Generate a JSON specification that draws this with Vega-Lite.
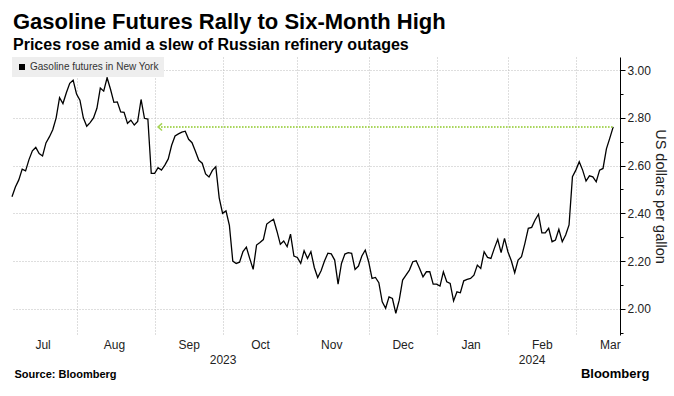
{
  "$schema": "https://vega.github.io/schema/vega-lite/v6.json",
  "width": 608,
  "height": 278,
  "autosize": {"type": "none"},
  "padding": {"left": 12, "top": 57, "right": 54, "bottom": 61},
  "background": "#ffffff",
  "config": {"view": {"stroke": null}, "font": "Liberation Sans"},
  "title": {
    "text": "Gasoline Futures Rally to Six-Month High",
    "subtitle": "Prices rose amid a slew of Russian refinery outages",
    "anchor": "start", "frame": "group",
    "font": "Liberation Sans", "fontSize": 22, "fontWeight": "bold", "color": "#000000",
    "subtitleFont": "Liberation Sans", "subtitleFontSize": 16, "subtitleFontWeight": "bold", "subtitleColor": "#000000",
    "subtitlePadding": 3, "offset": 3.5, "dx": 1
  },
  "datasets": {
    "prices": [
      {"date": "2023-07-05", "price": 2.469}, {"date": "2023-07-06", "price": 2.51}, {"date": "2023-07-07", "price": 2.54},
      {"date": "2023-07-10", "price": 2.585}, {"date": "2023-07-11", "price": 2.578}, {"date": "2023-07-12", "price": 2.625},
      {"date": "2023-07-13", "price": 2.662}, {"date": "2023-07-14", "price": 2.676}, {"date": "2023-07-17", "price": 2.65},
      {"date": "2023-07-18", "price": 2.64}, {"date": "2023-07-19", "price": 2.695}, {"date": "2023-07-20", "price": 2.72},
      {"date": "2023-07-21", "price": 2.75}, {"date": "2023-07-24", "price": 2.8}, {"date": "2023-07-25", "price": 2.885},
      {"date": "2023-07-26", "price": 2.86}, {"date": "2023-07-27", "price": 2.905}, {"date": "2023-07-28", "price": 2.945},
      {"date": "2023-07-31", "price": 2.958},
      {"date": "2023-08-01", "price": 2.9}, {"date": "2023-08-02", "price": 2.874}, {"date": "2023-08-03", "price": 2.8},
      {"date": "2023-08-04", "price": 2.765}, {"date": "2023-08-07", "price": 2.78}, {"date": "2023-08-08", "price": 2.8},
      {"date": "2023-08-09", "price": 2.84}, {"date": "2023-08-10", "price": 2.925}, {"date": "2023-08-11", "price": 2.912},
      {"date": "2023-08-14", "price": 2.968}, {"date": "2023-08-15", "price": 2.92}, {"date": "2023-08-16", "price": 2.865},
      {"date": "2023-08-17", "price": 2.867}, {"date": "2023-08-18", "price": 2.825}, {"date": "2023-08-21", "price": 2.823},
      {"date": "2023-08-22", "price": 2.777}, {"date": "2023-08-23", "price": 2.79}, {"date": "2023-08-24", "price": 2.77},
      {"date": "2023-08-25", "price": 2.785}, {"date": "2023-08-28", "price": 2.877}, {"date": "2023-08-29", "price": 2.798},
      {"date": "2023-08-30", "price": 2.795}, {"date": "2023-08-31", "price": 2.567},
      {"date": "2023-09-01", "price": 2.567}, {"date": "2023-09-05", "price": 2.591}, {"date": "2023-09-06", "price": 2.581},
      {"date": "2023-09-07", "price": 2.602}, {"date": "2023-09-08", "price": 2.628}, {"date": "2023-09-11", "price": 2.685},
      {"date": "2023-09-12", "price": 2.724}, {"date": "2023-09-13", "price": 2.733}, {"date": "2023-09-14", "price": 2.74},
      {"date": "2023-09-15", "price": 2.744}, {"date": "2023-09-18", "price": 2.71}, {"date": "2023-09-19", "price": 2.696},
      {"date": "2023-09-20", "price": 2.66}, {"date": "2023-09-21", "price": 2.622}, {"date": "2023-09-22", "price": 2.61},
      {"date": "2023-09-25", "price": 2.565}, {"date": "2023-09-26", "price": 2.552}, {"date": "2023-09-27", "price": 2.58},
      {"date": "2023-09-28", "price": 2.595}, {"date": "2023-09-29", "price": 2.465},
      {"date": "2023-10-02", "price": 2.4}, {"date": "2023-10-03", "price": 2.41}, {"date": "2023-10-04", "price": 2.35},
      {"date": "2023-10-05", "price": 2.2}, {"date": "2023-10-06", "price": 2.19}, {"date": "2023-10-09", "price": 2.195},
      {"date": "2023-10-10", "price": 2.24}, {"date": "2023-10-11", "price": 2.258}, {"date": "2023-10-12", "price": 2.21},
      {"date": "2023-10-13", "price": 2.165}, {"date": "2023-10-16", "price": 2.267}, {"date": "2023-10-17", "price": 2.278},
      {"date": "2023-10-18", "price": 2.29}, {"date": "2023-10-19", "price": 2.355}, {"date": "2023-10-20", "price": 2.366},
      {"date": "2023-10-23", "price": 2.375}, {"date": "2023-10-24", "price": 2.325}, {"date": "2023-10-25", "price": 2.27},
      {"date": "2023-10-26", "price": 2.284}, {"date": "2023-10-27", "price": 2.26}, {"date": "2023-10-30", "price": 2.313},
      {"date": "2023-10-31", "price": 2.221},
      {"date": "2023-11-01", "price": 2.215}, {"date": "2023-11-02", "price": 2.19}, {"date": "2023-11-03", "price": 2.243},
      {"date": "2023-11-06", "price": 2.211}, {"date": "2023-11-07", "price": 2.239}, {"date": "2023-11-08", "price": 2.173},
      {"date": "2023-11-09", "price": 2.131}, {"date": "2023-11-10", "price": 2.159}, {"date": "2023-11-13", "price": 2.2},
      {"date": "2023-11-14", "price": 2.233}, {"date": "2023-11-15", "price": 2.23}, {"date": "2023-11-16", "price": 2.204},
      {"date": "2023-11-17", "price": 2.103}, {"date": "2023-11-20", "price": 2.19}, {"date": "2023-11-21", "price": 2.229},
      {"date": "2023-11-22", "price": 2.235}, {"date": "2023-11-24", "price": 2.232}, {"date": "2023-11-27", "price": 2.165},
      {"date": "2023-11-28", "price": 2.179}, {"date": "2023-11-29", "price": 2.221}, {"date": "2023-11-30", "price": 2.246},
      {"date": "2023-12-01", "price": 2.197}, {"date": "2023-12-04", "price": 2.127}, {"date": "2023-12-05", "price": 2.131},
      {"date": "2023-12-06", "price": 2.109}, {"date": "2023-12-07", "price": 2.029}, {"date": "2023-12-08", "price": 2.002},
      {"date": "2023-12-11", "price": 2.05}, {"date": "2023-12-12", "price": 2.043}, {"date": "2023-12-13", "price": 1.981},
      {"date": "2023-12-14", "price": 2.036}, {"date": "2023-12-15", "price": 2.12}, {"date": "2023-12-18", "price": 2.141},
      {"date": "2023-12-19", "price": 2.162}, {"date": "2023-12-20", "price": 2.197}, {"date": "2023-12-21", "price": 2.201},
      {"date": "2023-12-22", "price": 2.169}, {"date": "2023-12-26", "price": 2.134}, {"date": "2023-12-27", "price": 2.155},
      {"date": "2023-12-28", "price": 2.155}, {"date": "2023-12-29", "price": 2.103},
      {"date": "2024-01-02", "price": 2.103}, {"date": "2024-01-03", "price": 2.095}, {"date": "2024-01-04", "price": 2.155},
      {"date": "2024-01-05", "price": 2.113}, {"date": "2024-01-08", "price": 2.106}, {"date": "2024-01-09", "price": 2.033},
      {"date": "2024-01-10", "price": 2.071}, {"date": "2024-01-11", "price": 2.067}, {"date": "2024-01-12", "price": 2.117},
      {"date": "2024-01-16", "price": 2.123}, {"date": "2024-01-17", "price": 2.127}, {"date": "2024-01-18", "price": 2.141},
      {"date": "2024-01-19", "price": 2.183}, {"date": "2024-01-22", "price": 2.169}, {"date": "2024-01-23", "price": 2.239},
      {"date": "2024-01-24", "price": 2.215}, {"date": "2024-01-25", "price": 2.211}, {"date": "2024-01-26", "price": 2.253},
      {"date": "2024-01-29", "price": 2.291}, {"date": "2024-01-30", "price": 2.235}, {"date": "2024-01-31", "price": 2.295},
      {"date": "2024-02-01", "price": 2.239}, {"date": "2024-02-02", "price": 2.201}, {"date": "2024-02-05", "price": 2.151},
      {"date": "2024-02-06", "price": 2.204}, {"date": "2024-02-07", "price": 2.218}, {"date": "2024-02-08", "price": 2.274},
      {"date": "2024-02-09", "price": 2.337}, {"date": "2024-02-12", "price": 2.341}, {"date": "2024-02-13", "price": 2.372},
      {"date": "2024-02-14", "price": 2.396}, {"date": "2024-02-15", "price": 2.318}, {"date": "2024-02-16", "price": 2.318},
      {"date": "2024-02-20", "price": 2.337}, {"date": "2024-02-21", "price": 2.281}, {"date": "2024-02-22", "price": 2.288},
      {"date": "2024-02-23", "price": 2.333}, {"date": "2024-02-26", "price": 2.281}, {"date": "2024-02-27", "price": 2.309},
      {"date": "2024-02-28", "price": 2.351}, {"date": "2024-02-29", "price": 2.553},
      {"date": "2024-03-01", "price": 2.581}, {"date": "2024-03-04", "price": 2.616}, {"date": "2024-03-05", "price": 2.581},
      {"date": "2024-03-06", "price": 2.535}, {"date": "2024-03-07", "price": 2.557}, {"date": "2024-03-08", "price": 2.553},
      {"date": "2024-03-11", "price": 2.532}, {"date": "2024-03-12", "price": 2.581}, {"date": "2024-03-13", "price": 2.588},
      {"date": "2024-03-14", "price": 2.67}, {"date": "2024-03-15", "price": 2.715}, {"date": "2024-03-18", "price": 2.762}
    ],
    "arrow": [{"date": "2023-09-05", "end": "2024-03-18", "price": 2.762}]
  },
  "layer": [
    {
      "data": {"name": "prices"},
      "mark": {"type": "line", "strokeWidth": 1.3},
      "encoding": {
        "x": {
          "field": "date", "type": "ordinal",
          "scale": {"type": "point", "padding": 2.25, "align": 0},
          "axis": {
            "orient": "bottom",
            "values": ["2023-08-01", "2023-09-01", "2023-10-02", "2023-11-01", "2023-12-01", "2024-01-02", "2024-02-01", "2024-03-01"],
            "labels": false, "ticks": false, "tickSize": 0, "domain": false, "title": null,
            "grid": true, "gridColor": "#bdbdbd", "gridDash": [1, 2], "gridWidth": 1
          }
        },
        "y": {
          "field": "price", "type": "quantitative",
          "scale": {"domain": [1.89, 3.055], "zero": false, "nice": false},
          "axis": {
            "orient": "right",
            "values": [2.0, 2.2, 2.4, 2.6, 2.8, 3.0],
            "format": ".2f",
            "labelFont": "Liberation Sans", "labelFontSize": 12, "labelColor": "#222222", "labelPadding": 2, "labelOverlap": false,
            "domain": true, "domainColor": "#000000", "domainWidth": 1,
            "ticks": true, "tickColor": "#000000", "tickWidth": 1, "tickSize": 5,
            "grid": true, "gridColor": "#bdbdbd", "gridDash": [1, 2], "gridWidth": 1,
            "title": "US dollars per gallon", "titleFont": "Liberation Sans", "titleFontSize": 14.5, "titleFontWeight": "normal",
            "titleColor": "#222222", "titlePadding": 2
          }
        },
        "color": {
          "datum": "Gasoline futures in New York",
          "scale": {"range": ["#000000"]},
          "legend": {
            "orient": "none", "legendX": 0, "legendY": 0, "title": null,
            "fillColor": "#eeeeee", "padding": 5, "cornerRadius": 0,
            "symbolType": "square", "symbolSize": 36, "symbolFillColor": "#000000", "symbolStrokeWidth": 0,
            "labelFont": "Liberation Sans", "labelFontSize": 10, "labelColor": "#333333", "labelOffset": 3,
            "encode": {"symbols": {"update": {"fill": {"value": "#000000"}, "stroke": {"value": "#000000"}, "strokeWidth": {"value": 0}, "opacity": {"value": 1}}}}
          }
        }
      }
    },
    {
      "data": {"name": "arrow"},
      "mark": {"type": "rule", "color": "#a6d456", "strokeWidth": 2, "strokeDash": [1.5, 1.5]},
      "encoding": {
        "x": {
          "field": "date", "type": "ordinal",
          "axis": {
            "orient": "bottom",
            "values": ["2023-07-18", "2023-08-16", "2023-09-18", "2023-10-17", "2023-11-15", "2023-12-15", "2024-01-17", "2024-02-15", "2024-03-15"],
            "labelExpr": "utcFormat(toDate(datum.value), '%b')",
            "labelAngle": 0, "labelFont": "Liberation Sans", "labelFontSize": 12, "labelColor": "#222222",
            "labelPadding": 4, "labelOverlap": false, "labelBound": false,
            "ticks": false, "tickSize": 0, "domain": false, "grid": false,
            "title": "Source:  Bloomberg", "titleFont": "Liberation Sans", "titleFontSize": 11, "titleFontWeight": "bold",
            "titleColor": "#000000", "titleAnchor": "start", "titleAlign": "left", "titleBaseline": "alphabetic",
            "titleX": 2, "titleY": 42
          }
        },
        "x2": {"field": "end"},
        "y": {
          "field": "price", "type": "quantitative",
          "axis": {
            "orient": "right",
            "values": [1.9, 2.1, 2.3, 2.5, 2.7, 2.9],
            "labels": false, "domain": false, "grid": false, "title": null,
            "ticks": true, "tickColor": "#000000", "tickWidth": 1, "tickSize": 3
          }
        }
      }
    },
    {
      "data": {"name": "arrow"},
      "mark": {"type": "point", "shape": "M1,-0.9L0,0L1,0.9", "size": 64, "filled": false, "color": "#a6d456", "strokeWidth": 1.5, "opacity": 1},
      "encoding": {
        "x": {
          "field": "date", "type": "ordinal",
          "axis": {
            "orient": "bottom",
            "values": ["2023-10-02", "2024-02-12"],
            "labelExpr": "slice(datum.value, 0, 4)",
            "labelAngle": 0, "labelFont": "Liberation Sans", "labelFontSize": 12, "labelColor": "#222222",
            "labelPadding": 19, "labelOverlap": false, "labelBound": false,
            "ticks": false, "tickSize": 0, "domain": false, "grid": false,
            "title": "Bloomberg", "titleFont": "Liberation Sans", "titleFontSize": 13, "titleFontWeight": "bold",
            "titleColor": "#000000", "titleAnchor": "end", "titleAlign": "right", "titleBaseline": "alphabetic",
            "titleX": 637, "titleY": 42
          }
        },
        "y": {"field": "price", "type": "quantitative", "axis": null}
      }
    }
  ],
  "resolve": {"axis": {"x": "independent", "y": "independent"}}
}
